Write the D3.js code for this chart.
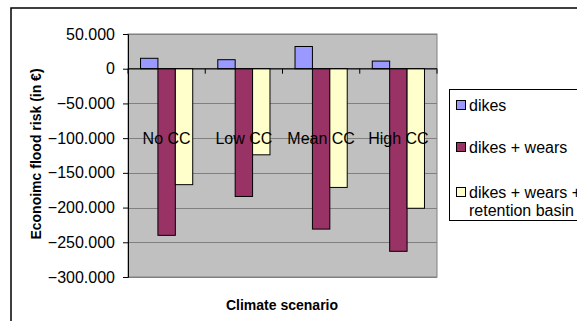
<!DOCTYPE html>
<html>
<head>
<meta charset="utf-8">
<script src="https://cdn.jsdelivr.net/npm/d3@7"></script>
<style>
  html, body { margin: 0; padding: 0; background: #fff; }
  svg { display: block; font-family: Arial, "Liberation Sans", sans-serif; }
</style>
</head>
<body>
<script>
// Climate scenarios on the x axis
const categories = ["No CC", "Low CC", "Mean CC", "High CC"];
// Measures (series) and their colours
const seriesNames = ["dikes", "dikes + wears", "dikes + wears + retention basin"];
const seriesColors = ["#9999FF", "#993366", "#FFFFCC"];
// Economic flood risk change (in €) per scenario
const dikes = [15000, 13000, 32000, 11000];
const dikesWears = [-240000, -184000, -231000, -263000];
const dikesWearsRetention = [-167000, -124000, -171000, -201000];
// Y axis ticks
const yTicks = [50000, 0, -50000, -100000, -150000, -200000, -250000, -300000];

const seriesValues = [dikes, dikesWears, dikesWearsRetention];

const W = 577, H = 321;
const plot = { left: 128, right: 437, top: 34, bottom: 277 };

const svg = d3.select("body").append("svg").attr("width", W).attr("height", H);

// Outer chart frame
svg.append("rect")
  .attr("x", 11).attr("y", 8).attr("width", 620).attr("height", 360)
  .attr("fill", "#fff").attr("stroke", "#000").attr("stroke-width", 1.5);

const x = d3.scaleBand().domain(categories).range([plot.left, plot.right]);
const inner = d3.scaleBand().domain(d3.range(seriesNames.length))
  .range([0, x.bandwidth()]).paddingInner(0).paddingOuter(0.72);
const y = d3.scaleLinear().domain([-300000, 50000]).range([plot.bottom, plot.top]);

// Plot area background
svg.append("rect")
  .attr("x", plot.left).attr("y", plot.top)
  .attr("width", plot.right - plot.left).attr("height", plot.bottom - plot.top)
  .attr("fill", "#C0C0C0").attr("stroke", "#808080").attr("stroke-width", 1);

// Horizontal gridlines
svg.append("g").selectAll("line").data(yTicks).join("line")
  .attr("x1", plot.left).attr("x2", plot.right)
  .attr("y1", d => Math.round(y(d)) + 0.5).attr("y2", d => Math.round(y(d)) + 0.5)
  .attr("stroke", "#808080").attr("stroke-width", 1);

// Bars
categories.forEach((c, ci) => {
  seriesValues.forEach((vals, si) => {
    const v = vals[ci];
    const y0 = y(0), y1 = y(v);
    svg.append("rect")
      .attr("x", x(c) + inner(si))
      .attr("y", Math.min(y0, y1))
      .attr("width", inner.bandwidth())
      .attr("height", Math.abs(y1 - y0))
      .attr("fill", seriesColors[si])
      .attr("stroke", "#000").attr("stroke-width", 1);
  });
});

// Y axis with "." as thousands separator
const yTickFmt = d => d === 0 ? "0" : d3.format(",.3f")(d / 1000);
const yg = svg.append("g").attr("transform", `translate(${plot.left},0)`)
  .call(d3.axisLeft(y).tickValues(yTicks).tickSize(5).tickPadding(8).tickFormat(yTickFmt));
yg.select(".domain").attr("stroke", "#000");
yg.selectAll(".tick line").attr("stroke", "#000");
yg.selectAll("text").attr("font-size", 16).attr("fill", "#000")
  .attr("font-family", "Arial, 'Liberation Sans', sans-serif");

// X axis on the zero line with ticks between categories
const xg = svg.append("g");
xg.append("line")
  .attr("x1", plot.left).attr("x2", plot.right)
  .attr("y1", y(0)).attr("y2", y(0)).attr("stroke", "#000");
xg.selectAll(".sep").data(d3.range(categories.length + 1)).join("line")
  .attr("x1", i => plot.left + i * x.step()).attr("x2", i => plot.left + i * x.step())
  .attr("y1", y(0)).attr("y2", y(0) + 5).attr("stroke", "#000");

// Category labels
svg.append("g").selectAll("text").data(categories).join("text")
  .attr("x", d => x(d) + x.bandwidth() / 2)
  .attr("y", 144)
  .attr("text-anchor", "middle")
  .attr("font-size", 16)
  .attr("fill", "#000")
  .text(d => d);

// Axis titles
svg.append("text")
  .attr("x", (plot.left + plot.right) / 2 - 0.5).attr("y", 310)
  .attr("text-anchor", "middle").attr("font-size", 14).attr("font-weight", "bold")
  .text("Climate scenario");
svg.append("text")
  .attr("transform", "translate(41,154) rotate(-90)")
  .attr("text-anchor", "middle").attr("font-size", 14).attr("font-weight", "bold")
  .text("Econoimc flood risk (in €)");

// Legend
const lg = svg.append("g");
lg.append("rect").attr("x", 449.5).attr("y", 89.5).attr("width", 200).attr("height", 131)
  .attr("fill", "#fff").attr("stroke", "#000");
const legendRows = [
  { lines: ["dikes"], y: 105 },
  { lines: ["dikes + wears"], y: 147 },
  { lines: ["dikes + wears +", "retention basin"], y: 192 }
];
legendRows.forEach((r, i) => {
  lg.append("rect").attr("x", 456.5).attr("y", r.y - 4.5).attr("width", 9).attr("height", 9)
    .attr("fill", seriesColors[i]).attr("stroke", "#000");
  r.lines.forEach((t, k) => {
    lg.append("text").attr("x", 469).attr("y", r.y + 6 + k * 18)
      .attr("font-size", 16).attr("fill", "#000").text(t);
  });
});
</script>
</body>
</html>
